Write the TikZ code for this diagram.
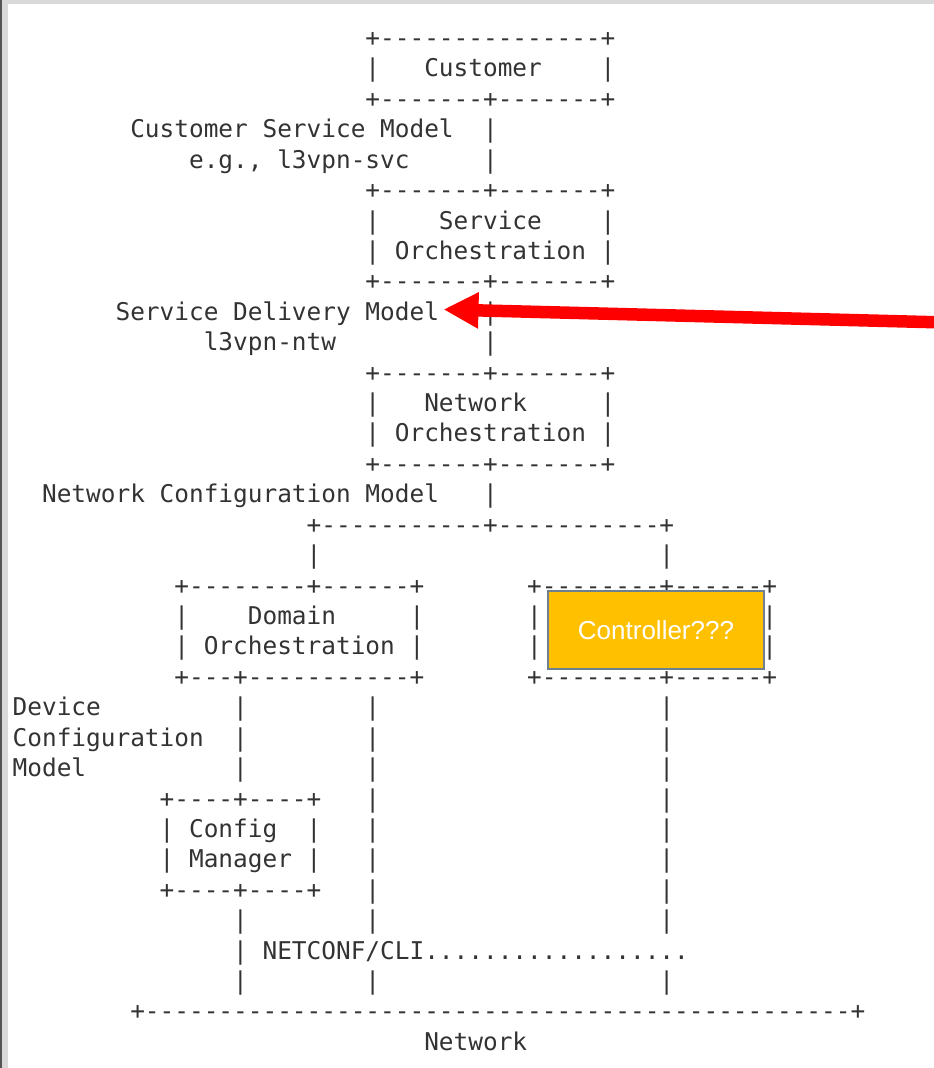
\documentclass[tikz,border=0pt]{standalone}
\usepackage{fontspec}
\setmonofont{DejaVu Sans Mono}
\newfontfamily\boxlabelfont{Liberation Sans}
\usetikzlibrary{arrows.meta,calc}

\definecolor{ink}{HTML}{333333}
\definecolor{ctrlfill}{HTML}{FFC000}
\definecolor{ctrlline}{HTML}{6E7F8F}
\definecolor{framegray}{HTML}{D9D9D9}
\definecolor{framedark}{HTML}{555555}

% one run of fixed-width text: name, text row, character column, text
\newcommand\asciirow[4]{%
  \node[asc] (#1) at ({365.45+14.7*(#3)},{46.5+30.42*(#2)}) {#4};}
% ten dashes
\newcommand\tendash{----------}

\begin{document}
\begin{tikzpicture}[x=1pt,y=-1pt,
  asc/.style={inner sep=0pt, outer sep=0pt, anchor=base west, text=ink,
    font=\ttfamily\fontsize{24.42}{30}\selectfont\frenchspacing},
  ctrlbox/.style={fill=ctrlfill, draw=ctrlline, line width=2pt,
    minimum width=216.6pt, minimum height=78.6pt, inner sep=0pt,
    text=white, font=\boxlabelfont\fontsize{26}{30}\selectfont},
  redarrow/.style={draw=red, line width=12.5pt,
    -{Triangle[length=35pt,width=34pt]}},
]
\useasboundingbox (0,0) rectangle (934,1068);
\fill[white] (0,0) rectangle (934,1068);
% window frame
\fill[framegray] (0,0) rectangle (934,4);
\fill[framegray] (0,0) rectangle (8,1068);
\fill[framedark] (0,0) rectangle (2,1068);

% customer
\asciirow{r0}{0}{0}{+---------------+}
\asciirow{r1}{1}{0}{|~~~Customer~~~~|}
\asciirow{r2}{2}{0}{+-------+-------+}
\asciirow{r3}{3}{-16}{Customer Service Model~~|}
\asciirow{r4}{4}{-12}{e.g., l3vpn-svc~~~~~|}
% service orchestration
\asciirow{r5}{5}{0}{+-------+-------+}
\asciirow{r6}{6}{0}{|~~~~Service~~~~|}
\asciirow{r7}{7}{0}{|~Orchestration~|}
\asciirow{r8}{8}{0}{+-------+-------+}
\asciirow{sdm}{9}{-17}{Service Delivery Model}
\asciirow{r9}{9}{8}{|}
\asciirow{r10}{10}{-11}{l3vpn-ntw~~~~~~~~~~|}
% network orchestration
\asciirow{r11}{11}{0}{+-------+-------+}
\asciirow{r12}{12}{0}{|~~~Network~~~~~|}
\asciirow{r13}{13}{0}{|~Orchestration~|}
\asciirow{r14}{14}{0}{+-------+-------+}
\asciirow{r15}{15}{-22}{Network Configuration Model~~~|}
\asciirow{r16}{16}{-4}{+-----------+-----------+}
\asciirow{r17a}{17}{-4}{|}
\asciirow{r17b}{17}{20}{|}
% domain orchestration and the right-hand box
\asciirow{r18a}{18}{-13}{+--------+------+}
\asciirow{r18b}{18}{11}{+--------+------+}
\asciirow{r19a}{19}{-13}{|~~~~Domain~~~~~|}
\asciirow{r19b}{19}{11}{|}
\asciirow{r19c}{19}{27}{|}
\asciirow{r20a}{20}{-13}{|~Orchestration~|}
\asciirow{r20b}{20}{11}{|}
\asciirow{r20c}{20}{27}{|}
\asciirow{r21a}{21}{-13}{+---+-----------+}
\asciirow{r21b}{21}{11}{+--------+------+}
% device configuration
\asciirow{dev1}{22}{-24}{Device}
\asciirow{dev2}{23}{-24}{Configuration}
\asciirow{dev3}{24}{-24}{Model}
\foreach \r in {22,23,24,29,31}
  \asciirow{pa\r}{\r}{-9}{|};
\foreach \r in {22,...,29,31} {
  \asciirow{pb\r}{\r}{0}{|}
  \asciirow{pc\r}{\r}{20}{|}
}
\asciirow{r25}{25}{-14}{+----+----+}
\asciirow{r26}{26}{-14}{|~Config~~|}
\asciirow{r27}{27}{-14}{|~Manager~|}
\asciirow{r28}{28}{-14}{+----+----+}
\asciirow{r30}{30}{-9}{|~NETCONF/CLI..................}
% network
\asciirow{r32}{32}{-16}{+\tendash\tendash\tendash\tendash--------+}
\asciirow{r33}{33}{4}{Network}

% highlighted controller
\node[ctrlbox] (ctrl) at (656,630) {Controller???};

% pointer to the service delivery model
\coordinate (arrowsrc) at (934,322.2);
\draw[redarrow] (arrowsrc) -- ($(sdm.base east)+(4.5,-10.8)$);
\end{tikzpicture}
\end{document}
